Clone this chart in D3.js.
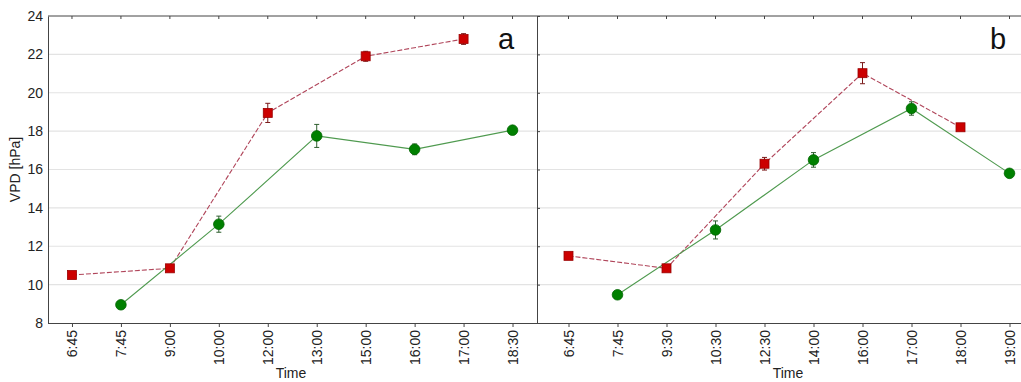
<!DOCTYPE html>
<html>
<head>
<meta charset="utf-8">
<script src="https://cdn.jsdelivr.net/npm/d3@7"></script>
<style>
  body { margin: 0; background: #fff; }
  svg { display: block; font-family: "Liberation Sans", Arial, sans-serif; }
</style>
</head>
<body>
<svg id="chart" width="1021" height="382"></svg>
<script>
  "use strict";

  // categories
  var timesA = ['6:45', '7:45', '9:00', '10:00', '12:00', '13:00', '15:00', '16:00', '17:00', '18:30'];
  var timesB = ['6:45', '7:45', '9:30', '10:30', '12:30', '14:00', '16:00', '17:00', '18:00', '19:00'];
  var yTicks = [8, 10, 12, 14, 16, 18, 20, 22, 24];

  // panel a, red series (squares, dashed)
  var redTimesA = ['6:45', '9:00', '12:00', '15:00', '17:00'];
  var redValuesA = [10.5, 10.85, 18.95, 21.9, 22.8];
  var redErrA = [0.08, 0.1, 0.5, 0.26, 0.28];

  // panel a, green series (circles, solid)
  var greenTimesA = ['7:45', '10:00', '13:00', '16:00', '18:30'];
  var greenValuesA = [8.95, 13.15, 17.75, 17.05, 18.05];
  var greenErrA = [0.2, 0.42, 0.6, 0.28, 0.1];

  // panel b
  var redTimesB = ['6:45', '9:30', '12:30', '16:00', '18:00'];
  var redValuesB = [11.5, 10.85, 16.3, 21.02, 18.2];
  var redErrB = [0.15, 0.1, 0.33, 0.55, 0.08];

  var greenTimesB = ['7:45', '10:30', '14:00', '17:00', '19:00'];
  var greenValuesB = [9.47, 12.85, 16.5, 19.18, 15.8];
  var greenErrB = [0.1, 0.47, 0.38, 0.35, 0.1];

  var svg = d3.select('#chart');
  var plotTop = 16, plotBottom = 323;

  var y = d3.scaleLinear().domain([8, 24]).range([plotBottom, plotTop]);

  /**
   * 組合一個系列的資料
   */
  function series(times, values, errs) {
    return times.map(function(t, i) {
      return { t: t, v: values[i], e: errs[i] };
    });
  }

  /**
   * 畫一個面板
   * edge0/edge1: 面板邊框, x0/x1: 類別比例尺範圍
   */
  function drawPanel(cfg) {
    var x = d3.scalePoint().domain(cfg.times).range([cfg.x0, cfg.x1]).padding(0.5);
    var g = svg.append('g');

    // grid
    g.append('g').selectAll('line')
      .data(yTicks.filter(function(d) { return d > 8 && d < 24; }))
      .enter().append('line')
      .attr('x1', cfg.edge0).attr('x2', cfg.edge1)
      .attr('y1', function(d) { return y(d); })
      .attr('y2', function(d) { return y(d); })
      .attr('stroke', '#e3e3e3')
      .attr('stroke-width', 1.2);

    // bottom axis
    var xAxis = g.append('g')
      .attr('transform', 'translate(0,' + plotBottom + ')')
      .call(d3.axisBottom(x).tickSize(4).tickSizeOuter(0));
    xAxis.select('.domain').remove();
    xAxis.selectAll('.tick line').attr('stroke', '#444');
    xAxis.selectAll('text')
      .attr('transform', 'rotate(-90)')
      .attr('text-anchor', 'end')
      .attr('x', -7).attr('y', 0).attr('dy', '0.35em')
      .attr('font-size', 14)
      .attr('font-family', '"Liberation Sans", Arial, sans-serif')
      .attr('fill', '#222');
    g.append('line')
      .attr('x1', cfg.edge0).attr('x2', cfg.edge1)
      .attr('y1', plotBottom + 0.5).attr('y2', plotBottom + 0.5)
      .attr('stroke', '#444');

    // top ticks (inward)
    g.append('g').selectAll('line')
      .data(cfg.times)
      .enter().append('line')
      .attr('x1', function(d) { return x(d); })
      .attr('x2', function(d) { return x(d); })
      .attr('y1', plotTop).attr('y2', plotTop + 3)
      .attr('stroke', '#444');

    // left axis
    var yAxis = g.append('g')
      .attr('transform', 'translate(' + cfg.edge0 + ',0)')
      .call(d3.axisLeft(y).tickValues(yTicks).tickSize(cfg.labels ? 0 : -3).tickSizeOuter(0));
    yAxis.select('.domain').attr('stroke', '#444');
    yAxis.selectAll('.tick line').attr('stroke', '#444');
    if (cfg.labels) {
      yAxis.selectAll('text')
        .attr('x', -5)
        .attr('font-size', 14)
        .attr('font-family', '"Liberation Sans", Arial, sans-serif')
        .attr('fill', '#222');
    } else {
      yAxis.selectAll('text').remove();
    }

    // x title
    g.append('text')
      .attr('x', cfg.titleX)
      .attr('y', 378)
      .attr('text-anchor', 'middle')
      .attr('font-size', 14)
      .attr('fill', '#222')
      .text('Time');

    // panel letter
    g.append('text')
      .attr('x', cfg.letterX)
      .attr('y', 49)
      .attr('text-anchor', 'middle')
      .attr('font-size', 29)
      .attr('fill', '#111')
      .text(cfg.letter);

    var line = d3.line()
      .x(function(d) { return x(d.t); })
      .y(function(d) { return y(d.v); });

    // red dashed
    g.append('path')
      .datum(cfg.red)
      .attr('d', line)
      .attr('fill', 'none')
      .attr('stroke', '#b0455a')
      .attr('stroke-width', 1.1)
      .attr('stroke-dasharray', '5,2');

    // green solid
    g.append('path')
      .datum(cfg.green)
      .attr('d', line)
      .attr('fill', 'none')
      .attr('stroke', '#4f9a4f')
      .attr('stroke-width', 1.1);

    drawErrors(g, cfg.red, x, '#7a1a1a');
    drawErrors(g, cfg.green, x, '#2f5f2f');

    // markers
    g.append('g').selectAll('rect')
      .data(cfg.red)
      .enter().append('rect')
      .attr('x', function(d) { return x(d.t) - 4.5; })
      .attr('y', function(d) { return y(d.v) - 4.5; })
      .attr('width', 9).attr('height', 9)
      .attr('fill', '#cc0000')
      .attr('stroke', '#9a0000')
      .attr('stroke-width', 0.8);

    g.append('g').selectAll('circle')
      .data(cfg.green)
      .enter().append('circle')
      .attr('cx', function(d) { return x(d.t); })
      .attr('cy', function(d) { return y(d.v); })
      .attr('r', 5.3)
      .attr('fill', '#008000')
      .attr('stroke', '#006400')
      .attr('stroke-width', 0.8);
  }

  function drawErrors(g, data, x, color) {
    var eg = g.append('g').attr('stroke', color).attr('stroke-width', 1);
    data.forEach(function(d) {
      var cx = x(d.t);
      var y1 = y(d.v + d.e), y2 = y(d.v - d.e);
      eg.append('line').attr('x1', cx).attr('x2', cx).attr('y1', y1).attr('y2', y2);
      eg.append('line').attr('x1', cx - 2.5).attr('x2', cx + 2.5).attr('y1', y1).attr('y2', y1);
      eg.append('line').attr('x1', cx - 2.5).attr('x2', cx + 2.5).attr('y1', y2).attr('y2', y2);
    });
  }

  drawPanel({
    times: timesA, edge0: 48, edge1: 537, x0: 47.5, x1: 537, labels: true,
    letter: 'a', letterX: 506, titleX: 291,
    red: series(redTimesA, redValuesA, redErrA),
    green: series(greenTimesA, greenValuesA, greenErrA)
  });

  drawPanel({
    times: timesB, edge0: 537, edge1: 1021, x0: 544, x1: 1034, labels: false,
    letter: 'b', letterX: 998, titleX: 788,
    red: series(redTimesB, redValuesB, redErrB),
    green: series(greenTimesB, greenValuesB, greenErrB)
  });

  // top border
  svg.append('line')
    .attr('x1', 48).attr('x2', 1021)
    .attr('y1', plotTop).attr('y2', plotTop)
    .attr('stroke', '#444');

  // y title
  svg.append('text')
    .attr('transform', 'translate(20,' + ((plotTop + plotBottom) / 2) + ') rotate(-90)')
    .attr('text-anchor', 'middle')
    .attr('font-size', 14)
    .attr('fill', '#222')
    .text('VPD [hPa]');
</script>
</body>
</html>
